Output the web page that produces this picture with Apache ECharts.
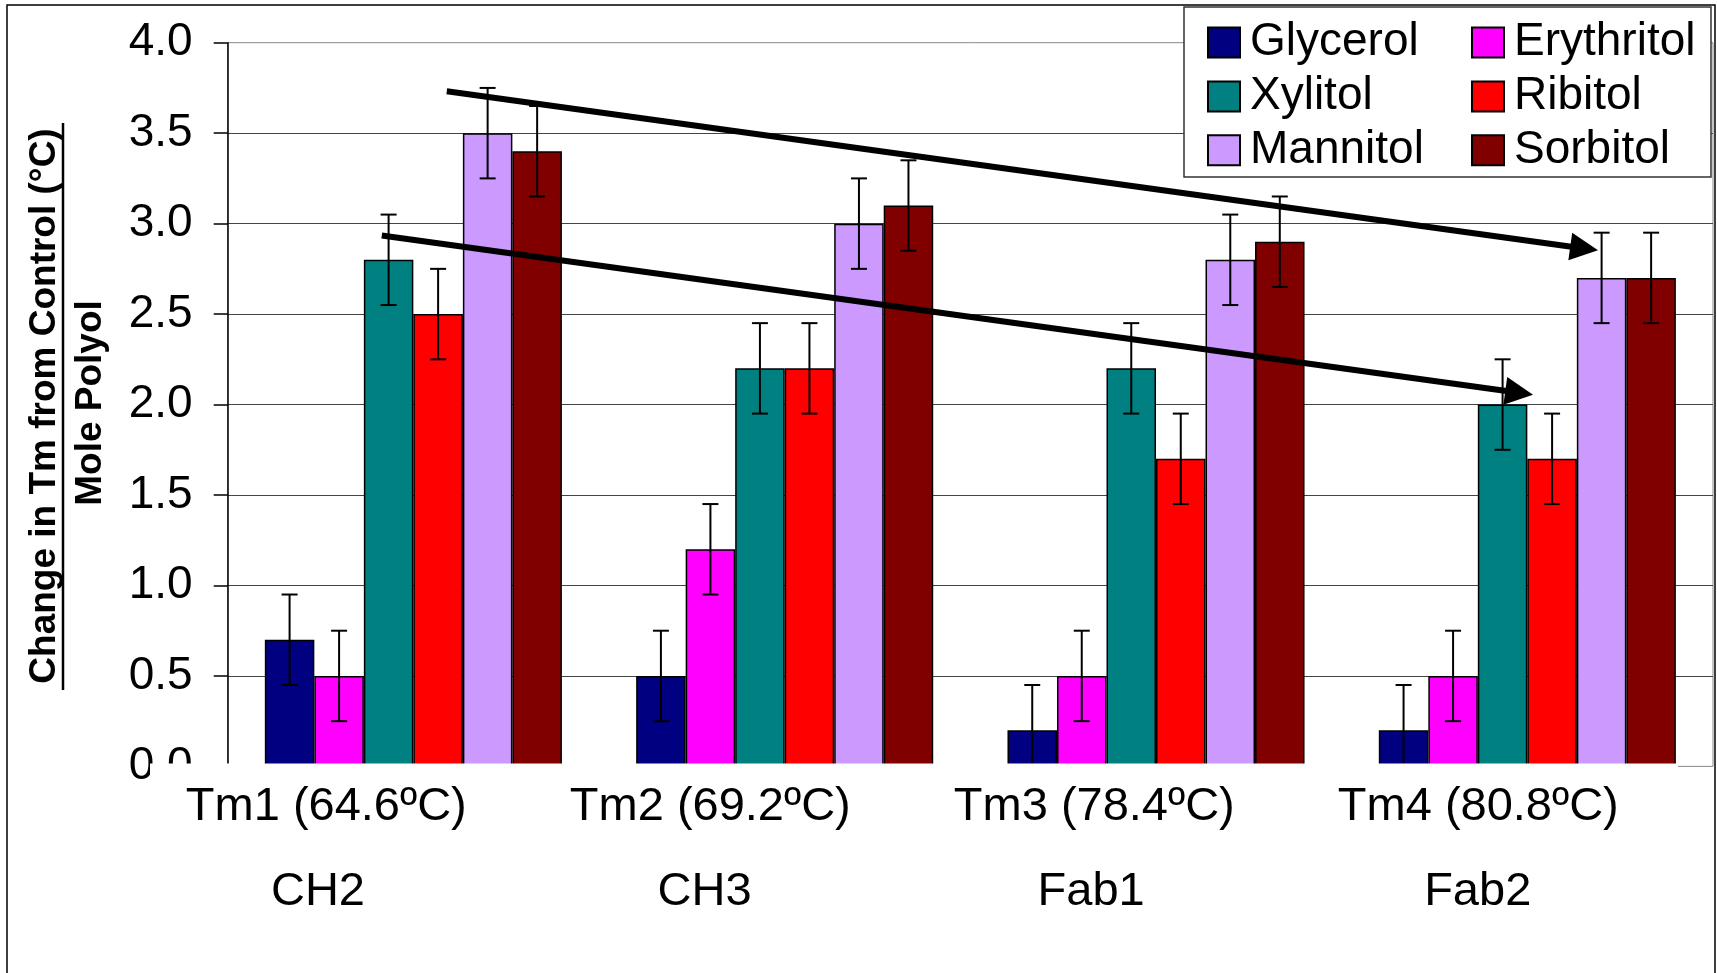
<!DOCTYPE html>
<html>
<head>
<meta charset="utf-8">
<script src="https://cdn.jsdelivr.net/npm/echarts@6/dist/echarts.min.js"></script>
<style>
  html, body { margin: 0; padding: 0; background: #fff; }
  #main { width: 1717px; height: 973px; }
</style>
</head>
<body>
<div id="main"></div>
<script>
// data
const categories = ["Tm1", "Tm2", "Tm3", "Tm4"];
const tmLabels = ["Tm1 (64.6ºC)", "Tm2 (69.2ºC)", "Tm3 (78.4ºC)", "Tm4 (80.8ºC)"];
const domainLabels = ["CH2", "CH3", "Fab1", "Fab2"];
const polyols = ["Glycerol", "Erythritol", "Xylitol", "Ribitol", "Mannitol", "Sorbitol"];
const glycerol = [0.7, 0.5, 0.2, 0.2];
const erythritol = [0.5, 1.2, 0.5, 0.5];
const xylitol = [2.8, 2.2, 2.2, 2.0];
const ribitol = [2.5, 2.2, 1.7, 1.7];
const mannitol = [3.5, 3.0, 2.8, 2.7];
const sorbitol = [3.4, 3.1, 2.9, 2.7];
const errors = [0.25, 0.25, 0.25, 0.25];
const yTicks = { min: 0, max: 4, step: 0.5 };
// trend arrows, [x in category units from left edge, y value]
const trendArrows = [
  [[0.590, 3.732], [3.653, 2.863]],
  [[0.415, 2.934], [3.478, 2.065]]
];

const values = [glycerol, erythritol, xylitol, ribitol, mannitol, sorbitol];
const colors = ["#000080", "#FF00FF", "#008080", "#FF0000", "#CC99FF", "#800000"];
const FONT = "'Liberation Sans', Arial, sans-serif";

const chart = echarts.init(document.getElementById("main"));

function errorBarItem(k) {
  return function (params, api) {
    const band = api.size([1, 0])[0];
    const barW = band * 0.8 / polyols.length;
    const base = api.coord([api.value(0), api.value(1)]);
    const x = base[0] + (k - 2.5) * barW;
    const yHi = api.coord([api.value(0), api.value(1) + api.value(2)])[1];
    const yLo = api.coord([api.value(0), api.value(1) - api.value(2)])[1];
    const style = { stroke: "#000", lineWidth: 2 };
    return {
      type: "group",
      children: [
        { type: "line", shape: { x1: x, y1: yHi, x2: x, y2: yLo }, style: style },
        { type: "line", shape: { x1: x - 8, y1: yHi, x2: x + 8, y2: yHi }, style: style },
        { type: "line", shape: { x1: x - 8, y1: yLo, x2: x + 8, y2: yLo }, style: style }
      ]
    };
  };
}

const barSeries = polyols.map(function (name, k) {
  return {
    name: name,
    type: "bar",
    xAxisIndex: 0,
    yAxisIndex: 0,
    data: values[k],
    barGap: "0%",
    barCategoryGap: "20%",
    itemStyle: { color: colors[k], borderColor: "#000", borderWidth: 1.5 }
  };
});

const errSeries = polyols.map(function (name, k) {
  return {
    type: "custom",
    xAxisIndex: 0,
    yAxisIndex: 0,
    z: 2.5,
    renderItem: errorBarItem(k),
    encode: { x: 0, y: 1 },
    data: categories.map(function (c, i) { return [i, values[k][i], errors[i]]; })
  };
});

const legendText = { fontFamily: FONT, fontSize: 46, color: "#000", padding: [0, 0, 0, 5] };

function labelAxis(gridIndex, labels) {
  return {
    type: "category", gridIndex: gridIndex, data: categories, z: 5,
    axisLine: { show: false }, axisTick: { show: false },
    axisLabel: {
      margin: 0, fontFamily: FONT, fontSize: 47, lineHeight: 50, color: "#000",
      formatter: function (v, i) { return labels[i]; }
    }
  };
}

const option = {
  animation: false,
  backgroundColor: "#fff",
  grid: [
    { left: 227.7, right: 4, top: 42.7, bottom: 206.6, show: true, borderColor: "#888", borderWidth: 1 },
    { left: 134.3, right: 46.7, top: 700, bottom: 191 },
    { left: 124.7, right: 46, top: 800, bottom: 105.6 }
  ],
  legend: [
    {
      data: ["Glycerol", "Xylitol", "Mannitol"],
      orient: "vertical", left: 1207, top: 19.6,
      itemWidth: 32, itemHeight: 30, itemGap: 7.8, padding: 0,
      icon: "rect", textStyle: legendText, z: 5
    },
    {
      data: ["Erythritol", "Ribitol", "Sorbitol"],
      orient: "vertical", left: 1471, top: 19.6,
      itemWidth: 32, itemHeight: 30, itemGap: 7.8, padding: 0,
      icon: "rect", textStyle: legendText, z: 5
    }
  ],
  xAxis: [
    {
      type: "category", gridIndex: 0, data: categories,
      axisLine: { show: false }, axisTick: { show: false }, axisLabel: { show: false }
    },
    labelAxis(1, tmLabels),
    labelAxis(2, domainLabels),
    { type: "value", gridIndex: 0, min: 0, max: 4, show: false }
  ],
  yAxis: [
    {
      type: "value", gridIndex: 0,
      min: yTicks.min, max: yTicks.max, interval: yTicks.step,
      axisLine: { show: true, lineStyle: { color: "#000", width: 1.5 } },
      axisTick: { show: true, length: 14, lineStyle: { color: "#000", width: 1.5 } },
      axisLabel: {
        margin: 35, fontFamily: FONT, fontSize: 46, color: "#000",
        formatter: function (v) { return v.toFixed(1); }
      },
      splitLine: { show: true, showMinLine: false, showMaxLine: false, lineStyle: { color: "#444", width: 1.2 } }
    },
    { type: "value", gridIndex: 1, show: false },
    { type: "value", gridIndex: 2, show: false }
  ],
  graphic: [
    // outer chart frame
    { type: "rect", z: 10, shape: { x: 7, y: 5, width: 1708, height: 1000 },
      style: { fill: "none", stroke: "#000", lineWidth: 1.5 } },
    // legend box
    { type: "rect", z: 3, shape: { x: 1184, y: 7, width: 527, height: 170 },
      style: { fill: "#fff", stroke: "#333", lineWidth: 1.5 } },
    // plot clipped at the baseline
    { type: "rect", z: 3, shape: { x: 150, y: 763.5, width: 1528, height: 17.5 },
      style: { fill: "#fff" } },
    // y axis title as a fraction
    { type: "text", z: 5, x: 45, y: 406, rotation: Math.PI / 2,
      style: { text: "Change in Tm from Control (°C)", font: "bold 37px " + FONT, fill: "#000", align: "center", verticalAlign: "middle" } },
    { type: "line", z: 5, shape: { x1: 63, y1: 123, x2: 63, y2: 690 },
      style: { stroke: "#000", lineWidth: 2.5 } },
    { type: "text", z: 5, x: 91, y: 403, rotation: Math.PI / 2,
      style: { text: "Mole Polyol", font: "bold 37px " + FONT, fill: "#000", align: "center", verticalAlign: "middle" } }
  ],
  series: barSeries.concat(errSeries).concat([
    {
      type: "lines",
      coordinateSystem: "cartesian2d",
      xAxisIndex: 3,
      yAxisIndex: 0,
      z: 4,
      symbol: ["none", "triangle"],
      symbolSize: 28,
      lineStyle: { color: "#000", width: 6, opacity: 1, curveness: 0 },
      data: trendArrows.map(function (c) { return { coords: c }; })
    }
  ])
};

chart.setOption(option);
</script>
</body>
</html>
